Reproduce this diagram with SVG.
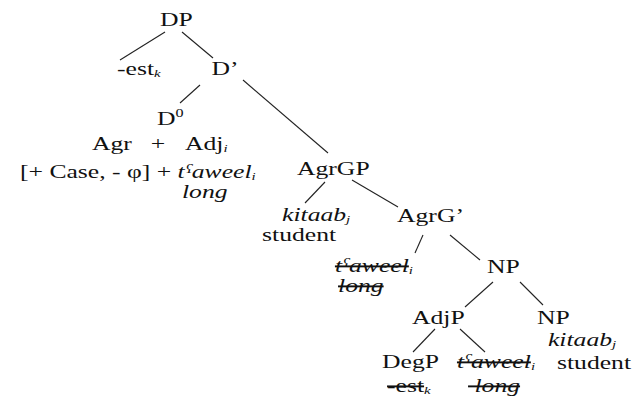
<svg xmlns="http://www.w3.org/2000/svg" width="633" height="401" viewBox="0 0 633 401">
<style>
text { font-family: "Liberation Serif", "Times New Roman", serif; font-size: 19px; fill: #111; }
.it { font-style: italic; }
.sub { font-size: 11px; font-style: italic; }
.sup { font-size: 12px; }
.mid { text-anchor: middle; }
.del { text-decoration: line-through; }
#connectors line { stroke: #222; stroke-width: 1.1; }
</style>
<rect width="633" height="401" fill="#fff"/>
<g id="connectors">
<line x1="165" y1="32" x2="120" y2="60"/>
<line x1="182" y1="32" x2="213" y2="58"/>
<line x1="200" y1="85" x2="180" y2="103"/>
<line x1="243" y1="80" x2="328" y2="153"/>
<line x1="325" y1="182" x2="305" y2="203"/>
<line x1="352" y1="180" x2="398" y2="207"/>
<line x1="423" y1="235" x2="415" y2="253"/>
<line x1="450" y1="235" x2="480" y2="260"/>
<line x1="493" y1="282" x2="465" y2="307"/>
<line x1="520" y1="282" x2="543" y2="305"/>
<line x1="435" y1="329" x2="413" y2="352"/>
<line x1="460" y1="329" x2="485" y2="352"/>
</g>
<g transform="scale(1.35,1)">
<g id="n-DP"><text class="mid" x="130.7" y="26">DP</text></g>
<g id="n-est"><text x="86.7" y="75">-est<tspan class="sub" dy="2">k</tspan></text></g>
<g id="n-Dbar"><text class="mid" x="166.7" y="75">D’</text></g>
<g id="n-D0">
<text x="116.3" y="125">D<tspan class="sup" dy="-8">0</tspan></text>
<text x="68.1" y="150">Agr</text>
<text class="mid" x="117" y="150">+</text>
<text x="137" y="150">Adj<tspan class="sub" dy="2">i</tspan></text>
<text x="14.8" y="178">[+ Case, - φ] + <tspan class="it">tˤaweel</tspan><tspan class="sub" dy="2">i</tspan></text>
<text class="it" x="134.8" y="198">long</text>
</g>
<g id="n-AgrGP"><text x="220" y="175">AgrGP</text></g>
<g id="n-kitaab1">
<text x="208.9" y="221"><tspan class="it">kitaab</tspan><tspan class="sub" dy="2">j</tspan></text>
<text x="194.1" y="241">student</text>
</g>
<g id="n-AgrGbar"><text x="294.1" y="222">AgrG’</text></g>
<g id="n-taweel1">
<text x="248.1" y="272"><tspan class="it del">tˤaweel</tspan><tspan class="sub" dy="2">i</tspan></text>
<text class="it del" x="250.4" y="292">long</text>
</g>
<g id="n-NP1"><text x="360.7" y="273">NP</text></g>
<g id="n-AdjP"><text x="305.2" y="324">AdjP</text></g>
<g id="n-NP2">
<text x="397.8" y="324">NP</text>
<text x="405.9" y="346"><tspan class="it">kitaab</tspan><tspan class="sub" dy="2">j</tspan></text>
</g>
<g id="n-DegP">
<text x="283" y="368">DegP</text>
<text x="286.7" y="392"><tspan class="del">-est</tspan><tspan class="sub" dy="2">k</tspan></text>
</g>
<g id="n-taweel2">
<text x="338.5" y="368"><tspan class="it del">tˤaweel</tspan><tspan class="sub" dy="2">i</tspan></text>
<text class="it del" x="346.7" y="392" xml:space="preserve"> long</text>
</g>
<g id="n-student2"><text x="412.6" y="369">student</text></g>
</g>
</svg>
